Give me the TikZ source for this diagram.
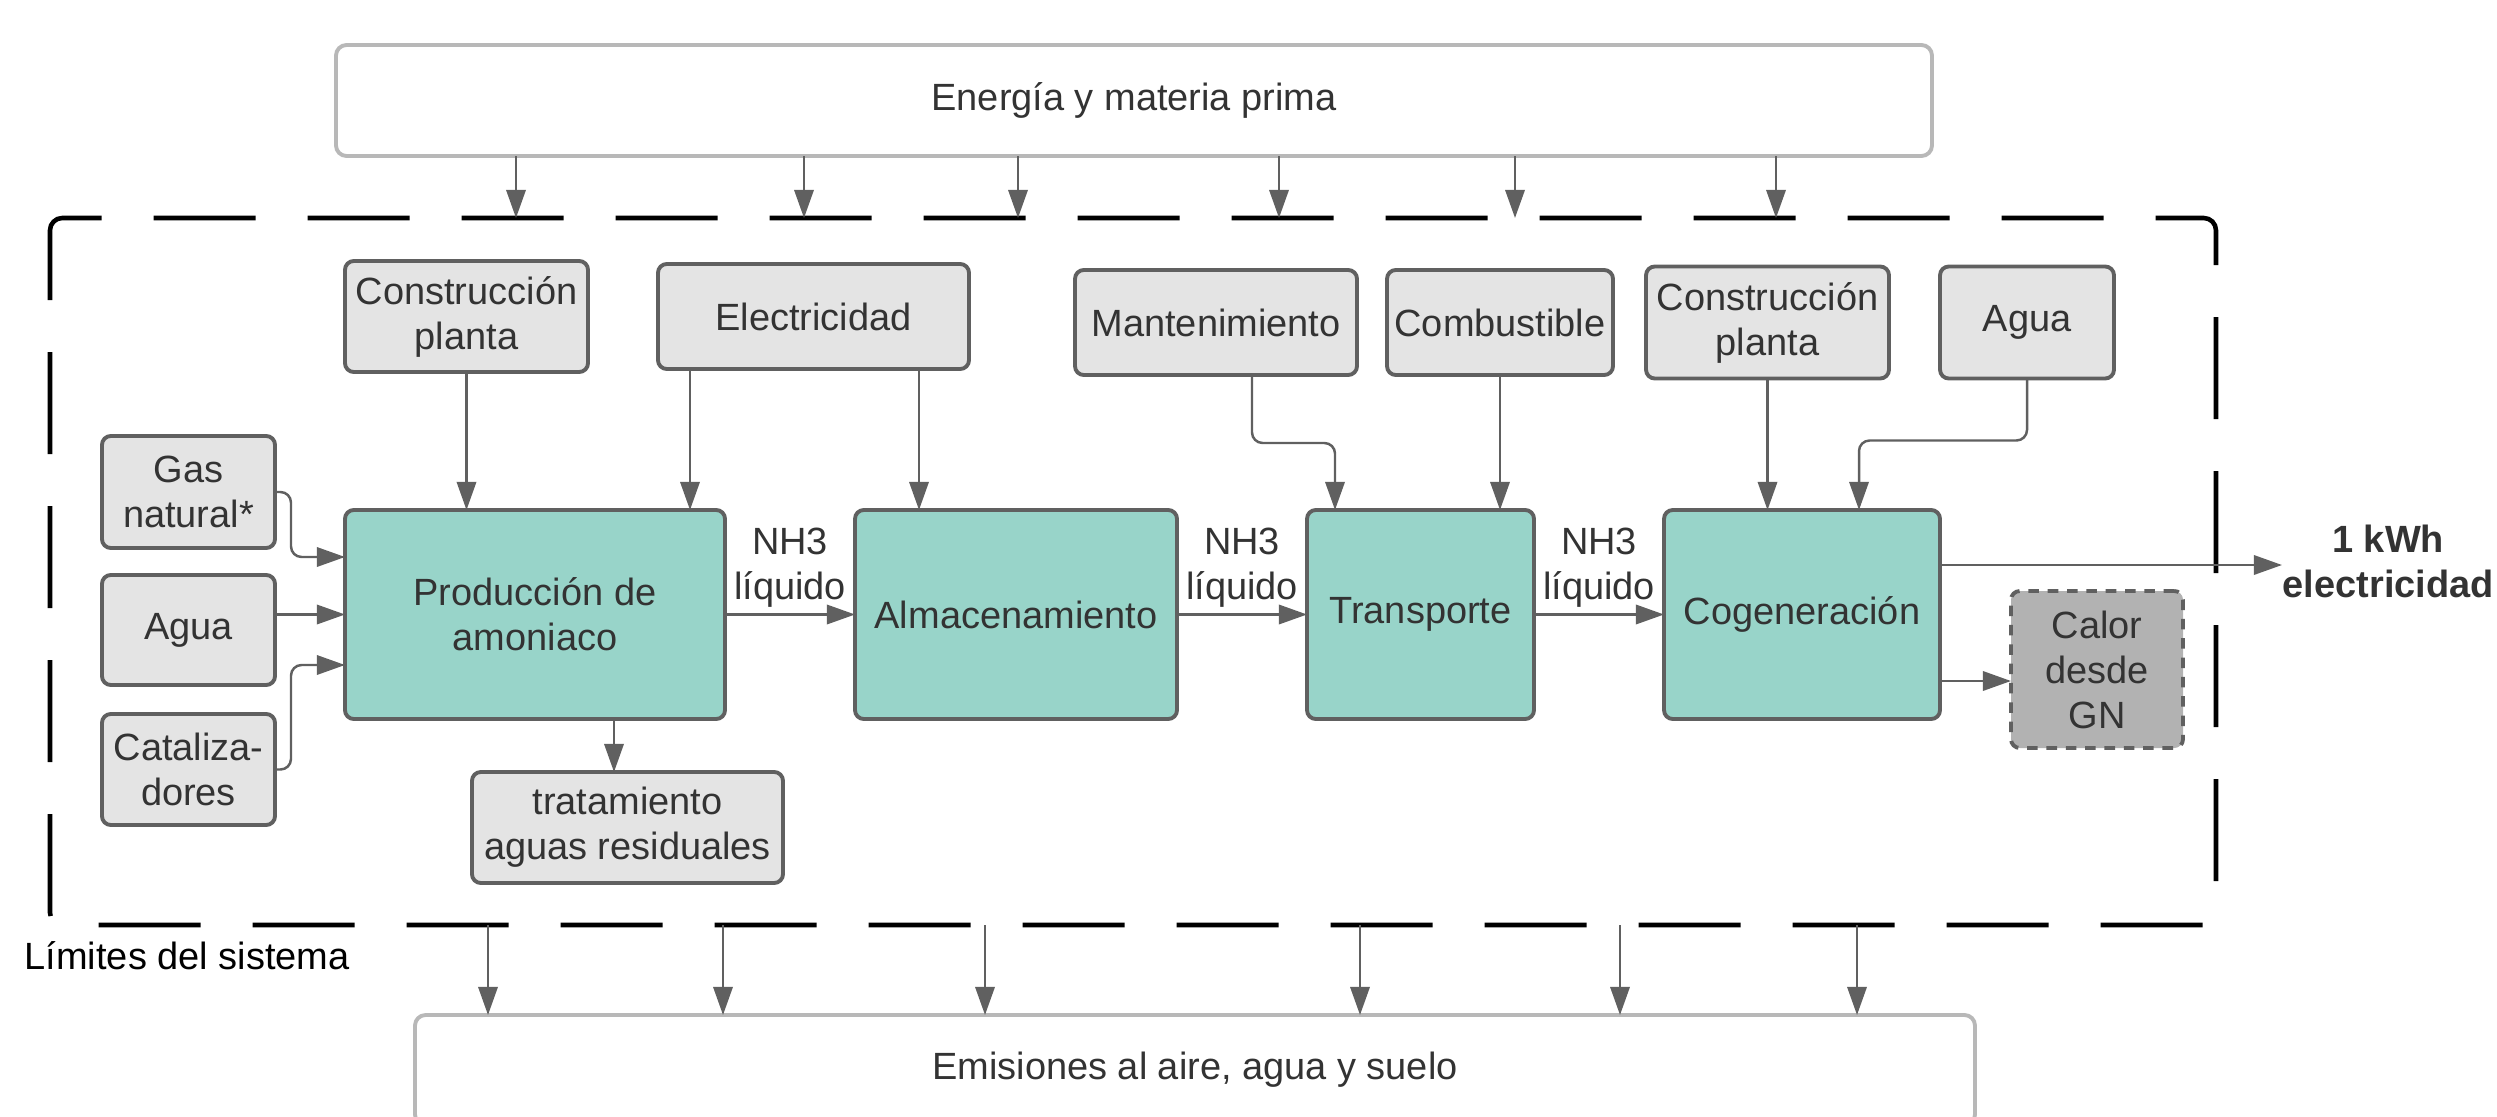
\documentclass[tikz,border=0pt]{standalone}
\usepackage{fontspec}
\setmainfont{Liberation Sans}
\usetikzlibrary{arrows.meta,calc,positioning}
\definecolor{procteal}{RGB}{152,212,201}
\definecolor{inputgray}{RGB}{228,228,228}
\definecolor{edgegray}{RGB}{96,96,96}
\definecolor{framegray}{RGB}{184,184,184}
\definecolor{heatgray}{RGB}{178,178,178}
\definecolor{textgray}{RGB}{51,51,51}

\begin{document}
\begin{tikzpicture}[
    font=\fontsize{10.8}{12.8}\selectfont,
    box/.style={draw=edgegray, line width=1.1pt, rounded corners=2.5pt, align=center,
        inner sep=1pt, outer sep=0pt, text=textgray, fill=inputgray},
    process/.style={box, fill=procteal, minimum height=20.9mm},
    heat/.style={box, fill=heatgray, dash pattern=on 3pt off 2.5pt},
    frame/.style={draw=framegray, line width=1.1pt, rounded corners=3pt, fill=white,
        text=textgray, inner sep=0pt, outer sep=0pt},
    arrow/.style={-{Triangle[length=8pt,width=5.5pt]}, line width=0.7pt, draw=edgegray,
        rounded corners=3pt},
    boundary/.style={draw=black, line width=1.3pt, dash pattern=on 10.2mm off 5.2mm,
        rounded corners=3.5pt},
    flowlabel/.style={midway, yshift=4.65mm, align=center, inner sep=0pt, text=textgray}
]
\useasboundingbox (0,0) rectangle (24.97,11.16);
\clip (0,0) rectangle (24.97,11.16);

\node[process, minimum width=38mm] (prod) at (5.35,5.015) {Producción de\\amoniaco};
\node[process, right=13mm of prod, minimum width=32.2mm] (alm) {Almacenamiento};
\node[process, right=13mm of alm, minimum width=22.7mm] (trans) {Transporte};
\node[process, right=13mm of trans, minimum width=27.6mm] (cog) {Cogeneración};
\node[heat, right=7.1mm of cog, yshift=-5.5mm, minimum width=17.2mm, minimum height=15.7mm]
    (calor) {Calor\\desde\\GN};

\node[box, left=7mm of prod, yshift=-1.55mm, minimum width=17.3mm, minimum height=11mm]
    (agua1) {Agua};
\node[box, above=2.7mm of agua1, minimum width=17.3mm, minimum height=11.2mm]
    (gas) {Gas\\natural*};
\node[box, below=2.9mm of agua1, minimum width=17.3mm, minimum height=11.1mm]
    (cat) {Cataliza-\\dores};

\node[box, above=13.8mm of prod, xshift=-6.85mm, minimum width=24.3mm, minimum height=11.1mm]
    (cp1) {Construcción\\planta};
\node[box, right=7mm of cp1, minimum width=31.1mm, minimum height=10.5mm]
    (elec) {Electricidad};
\node[box, right=10.6mm of elec, yshift=-0.6mm, minimum width=28.2mm, minimum height=10.5mm]
    (mant) {Mantenimiento};
\node[box, right=3mm of mant, minimum width=22.6mm, minimum height=10.5mm]
    (comb) {Combustible};
\node[box, right=3.3mm of comb, minimum width=24.3mm, minimum height=11.2mm]
    (cp2) {Construcción\\planta};
\node[box, right=5.1mm of cp2, minimum width=17.4mm, minimum height=11.2mm]
    (agua2) {Agua};

\node[box, below=5.3mm of prod, xshift=9.25mm, minimum width=31.1mm, minimum height=11.1mm]
    (trat) {tratamiento\\aguas residuales};

\node[font=\fontsize{10.8}{12.8}\selectfont\bfseries, align=center, inner sep=0pt,
    text=textgray, right=34.2mm of cog, yshift=5.3mm] (kwh) {1 kWh\\electricidad};

\node[frame, minimum width=159.6mm, minimum height=11.1mm] (energia) at (11.34,10.155)
    {Energía y materia prima};
\node[frame, minimum width=156mm, minimum height=11mm] (emis) at (11.95,0.46)
    {Emisiones al aire, agua y suelo};

\coordinate (bnw) at (0.50,8.98);
\coordinate (bse) at (22.16,1.91);
\draw[boundary] (0.50,8.30) -- (bnw) -- (bnw -| bse) -- (bse) -- (bse -| bnw) -- cycle;
\node[anchor=west, inner sep=0pt, text=black] (limites) at (0.24,1.60) {Límites del sistema};

\foreach \x in {5.16,8.04,10.18,12.79,15.15,17.76}
    \draw[arrow] (\x,0 |- energia.south) -- (\x,0 |- bnw);
\foreach \x in {4.88,7.23,9.85,13.60,16.20,18.57}
    \draw[arrow] (\x,0 |- bse) -- (\x,0 |- emis.north);

\draw[arrow] (gas.east) -- ++(0.16,0) |- ([yshift=5.75mm]prod.west);
\draw[arrow] (prod.west -| agua1.east) -- (prod.west);
\draw[arrow] (cat.east) -- ++(0.16,0) |- ([yshift=-5.05mm]prod.west);

\coordinate (elecA) at ([xshift=-12.35mm]elec.south);
\coordinate (elecB) at ([xshift=10.55mm]elec.south);
\coordinate (mantout) at ([xshift=3.6mm]mant.south);
\draw[arrow] (cp1.south) -- (cp1.south |- prod.north);
\draw[arrow] (elecA) -- (elecA |- prod.north);
\draw[arrow] (elecB) -- (elecB |- alm.north);
\draw[arrow] (mantout) -- ++(0,-0.68) -| ([xshift=-8.55mm]trans.north);
\draw[arrow] (comb.south) -- (comb.south |- trans.north);
\draw[arrow] (cp2.south) -- (cp2.south |- cog.north);
\draw[arrow] (agua2.south) -- ++(0,-0.62) -| ([xshift=5.7mm]cog.north);

\coordinate (tratin) at ([xshift=7.9mm]prod.south);
\draw[arrow] (tratin) -- (tratin |- trat.north);

\draw[arrow] (prod.east) -- node[flowlabel] {NH3\\líquido} (alm.west);
\draw[arrow] (alm.east) -- node[flowlabel] {NH3\\líquido} (trans.west);
\draw[arrow] (trans.east) -- node[flowlabel] {NH3\\líquido} (cog.west);

\coordinate (cogtop) at ([yshift=4.95mm]cog.east);
\coordinate (cogbot) at ([yshift=-6.65mm]cog.east);
\draw[arrow] (cogtop) -- (cogtop -| kwh.west);
\draw[arrow] (cogbot) -- (cogbot -| calor.west);

\end{tikzpicture}
\end{document}
